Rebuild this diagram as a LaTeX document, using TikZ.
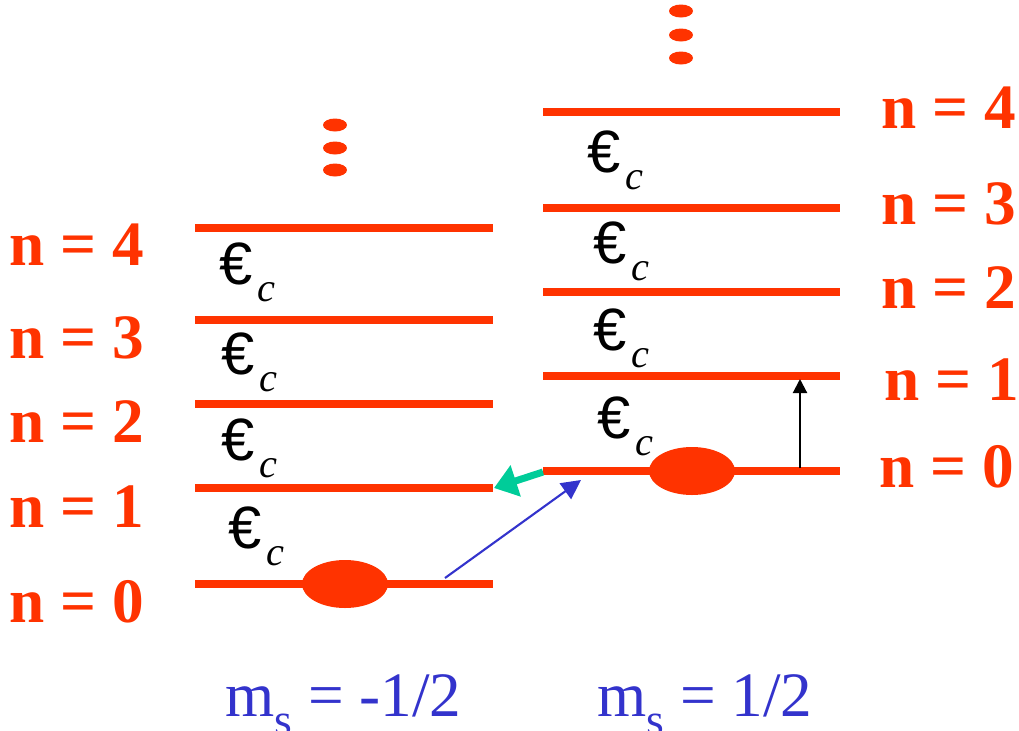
\documentclass[tikz,border=0pt]{standalone}
\usepackage{fontspec}
\setmainfont{Liberation Serif}
\newfontfamily\eurofont{Liberation Sans}
\usetikzlibrary{arrows.meta}
\definecolor{lvred}{HTML}{FF3300}
\definecolor{msblue}{HTML}{3333CC}
\definecolor{tealg}{HTML}{00CC99}
\newcommand{\msub}{\raisebox{-11pt}{\fontsize{26}{26}\selectfont s}}
\begin{document}
\begin{tikzpicture}[x=0.02cm,y=-0.02cm,
  level/.style={draw=lvred,line width=4pt},
  nlabel/.style={text=lvred,font=\fontsize{36}{36}\selectfont\bfseries,inner sep=0pt},
  eps/.style={font=\fontsize{34}{34}\selectfont\eurofont,inner sep=0pt},
  subc/.style={font=\fontsize{23}{23}\selectfont\itshape,inner sep=0pt},
  mslabel/.style={text=msblue,font=\fontsize{36}{36}\selectfont,inner sep=0pt}]
\useasboundingbox (0,0) rectangle (1019,731);
% left ladder
\foreach \n/\y in {0/584,1/488,2/404,3/320,4/228}{
  \coordinate (La\n) at (195,\y);
  \coordinate (Lb\n) at (493,\y);
  \draw[level] (La\n) -- (Lb\n);
}
% right ladder
\foreach \n/\y in {0/471,1/376,2/292,3/208,4/112}{
  \coordinate (Ra\n) at (543,\y);
  \coordinate (Rb\n) at (840,\y);
  \draw[level] (Ra\n) -- (Rb\n);
}
% n labels
\foreach \n/\y in {4/245,3/338,2/422,1/507,0/602}{
  \node[nlabel,anchor=west] (Ln\n) at (9,\y) {n = \n};
}
\foreach \n/\x/\y in {4/881/108,3/881/204,2/881/288,1/884/380,0/879/467}{
  \node[nlabel,anchor=west] (Rn\n) at (\x,\y) {n = \n};
}
% epsilon_c labels
\foreach \i/\x/\y in {1/236/264,2/238/354,3/238/440,4/245/528,5/604/152,6/610/243,7/610/330,8/614/418}{
  \node[eps] (e\i) at (\x,\y) {€};
  \node[subc] (c\i) at ([shift={(30,28)}]e\i.center) {c};
}
% particles
\fill[lvred] (345,584) ellipse [x radius=43,y radius=24];
\fill[lvred] (692,471) ellipse [x radius=43,y radius=24];
% dots
\foreach \y in {125,148,170}{\fill[lvred] (335,\y) ellipse [x radius=12,y radius=6.5];}
\foreach \y in {11,35,58}{\fill[lvred] (681,\y) ellipse [x radius=12,y radius=6.5];}
% arrows
\coordinate (bs) at (445,578);
\coordinate (be) at (581,480);
\draw[msblue,line width=1.2pt,-{Triangle[length=11pt,width=11pt]}] (bs) -- (be);
\coordinate (gs) at (543,472);
\coordinate (ge) at (494,488);
\draw[tealg,line width=4pt,-{Triangle[length=13pt,width=18pt]}] (gs) -- (ge);
\coordinate (ks) at (800,468);
\coordinate (ke) at (800,379);
\draw[black,line width=1.2pt,-{Triangle[length=8pt,width=8pt]}] (ks) -- (ke);
% m_s labels
\node[mslabel,anchor=base west] (msl) at (225,716) {m\msub{} = -1/2};
\node[mslabel,anchor=base west] (msr) at (597,716) {m\msub{} = 1/2};
\end{tikzpicture}
\end{document}
